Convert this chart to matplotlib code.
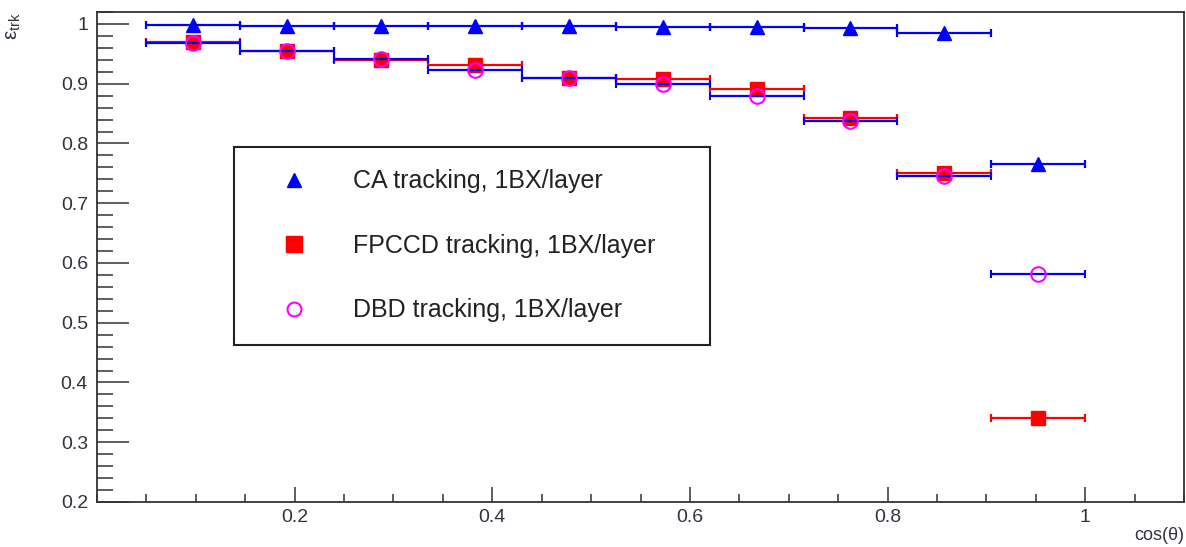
import matplotlib
matplotlib.use('Agg')
import matplotlib.pyplot as plt
from matplotlib.ticker import FixedLocator, MultipleLocator, FixedFormatter
from matplotlib.lines import Line2D
import numpy as np

# ---- data ----
bin_edges = [0.05, 0.145, 0.24, 0.335, 0.43, 0.525, 0.62, 0.715, 0.81, 0.905, 1.0]
ca_eff    = [0.999, 0.997, 0.996, 0.996, 0.996, 0.995, 0.995, 0.993, 0.985, 0.765]
fpccd_eff = [0.969, 0.955, 0.939, 0.932, 0.910, 0.908, 0.891, 0.843, 0.750, 0.340]
dbd_eff   = [0.968, 0.955, 0.941, 0.923, 0.910, 0.900, 0.879, 0.838, 0.746, 0.582]
series_labels = ['CA tracking, 1BX/layer', 'FPCCD tracking, 1BX/layer', 'DBD tracking, 1BX/layer']
x_ticks = [0.2, 0.4, 0.6, 0.8, 1.0]
x_tick_labels = ['0.2', '0.4', '0.6', '0.8', '1']
y_ticks = [0.2, 0.3, 0.4, 0.5, 0.6, 0.7, 0.8, 0.9, 1.0]
y_tick_labels = ['0.2', '0.3', '0.4', '0.5', '0.6', '0.7', '0.8', '0.9', '1']

plt.rcParams['font.family'] = ['Liberation Sans', 'DejaVu Sans']
plt.rcParams['mathtext.fontset'] = 'custom'
plt.rcParams['mathtext.rm'] = 'Liberation Sans'

W, H = 1186, 547
fig = plt.figure(figsize=(W / 100, H / 100), dpi=100)
L, R, T, B = 97, 1184, 12, 502
ax = fig.add_axes([L / W, 1 - B / H, (R - L) / W, (B - T) / H])

edges = np.array(bin_edges)
centers = (edges[:-1] + edges[1:]) / 2
half = (edges[1:] - edges[:-1]) / 2

blue, red, mag = '#0000ff', '#ff0000', '#ff00ff'
ekw = dict(capsize=2.6, elinewidth=1.6, capthick=1.6, linestyle='none')

ax.errorbar(centers, ca_eff, xerr=half, fmt='^', color=blue, ecolor=blue,
            ms=10.5, mec=blue, **ekw, zorder=3)
ax.errorbar(centers, fpccd_eff, xerr=half, fmt='s', color=red, ecolor=red,
            ms=10, mec=red, **ekw, zorder=3)
ax.errorbar(centers, dbd_eff, xerr=half, fmt='o', color=blue, ecolor=blue,
            ms=10.5, mfc='none', mec=mag, mew=1.5, **ekw, zorder=4)

ax.set_xlim(0, 1.1)
ax.set_ylim(0.2, 1.02)

ax.xaxis.set_major_locator(FixedLocator(x_ticks))
ax.xaxis.set_major_formatter(FixedFormatter(x_tick_labels))
ax.xaxis.set_minor_locator(MultipleLocator(0.05))
ax.yaxis.set_major_locator(FixedLocator(y_ticks))
ax.yaxis.set_major_formatter(FixedFormatter(y_tick_labels))
ax.yaxis.set_minor_locator(MultipleLocator(0.02))

tc = '#333333'
lc = '#333340'
ax.tick_params(axis='x', which='major', direction='in', length=10.8, width=1.1,
               color=tc, labelsize=14, labelcolor=lc, pad=5)
ax.tick_params(axis='x', which='minor', direction='in', length=5.8, width=1.1, color=tc)
ax.tick_params(axis='y', which='major', direction='in', length=23, width=1.1,
               color=tc, labelsize=14, labelcolor=lc, pad=6.5)
ax.tick_params(axis='y', which='minor', direction='in', length=11.5, width=1.1, color=tc)
ax.tick_params(top=False, right=False, which='both')

for s in ax.spines.values():
    s.set_linewidth(1.3)
    s.set_color('#333333')

ax.set_xlabel('cos(θ)', loc='right', fontsize=13, color=lc)
ax.xaxis.set_label_coords(1.0, -0.05)
ax.set_ylabel(r'ε$_{\mathrm{trk}}$', loc='top', fontsize=15, color=lc)
ax.yaxis.set_label_coords(-0.068, 1.0)

handles = [
    Line2D([], [], marker='^', color=blue, linestyle='none', ms=10),
    Line2D([], [], marker='s', color=red, linestyle='none', ms=11),
    Line2D([], [], marker='o', mfc='none', mec=mag, mew=1.5, linestyle='none', ms=10),
]
leg = ax.legend(handles, series_labels, loc='upper left',
                bbox_to_anchor=(0.126, 0.3265, 0.438, 0.398), mode='expand',
                borderaxespad=0, fontsize=18, handlelength=3, borderpad=0.9,
                handletextpad=0.86, labelspacing=1.62, fancybox=False,
                framealpha=1, edgecolor='#222222', numpoints=1)
leg.get_frame().set_linewidth(1.5)
for t in leg.get_texts():
    t.set_color('#222222')

fig.savefig('out.png', dpi=100)
